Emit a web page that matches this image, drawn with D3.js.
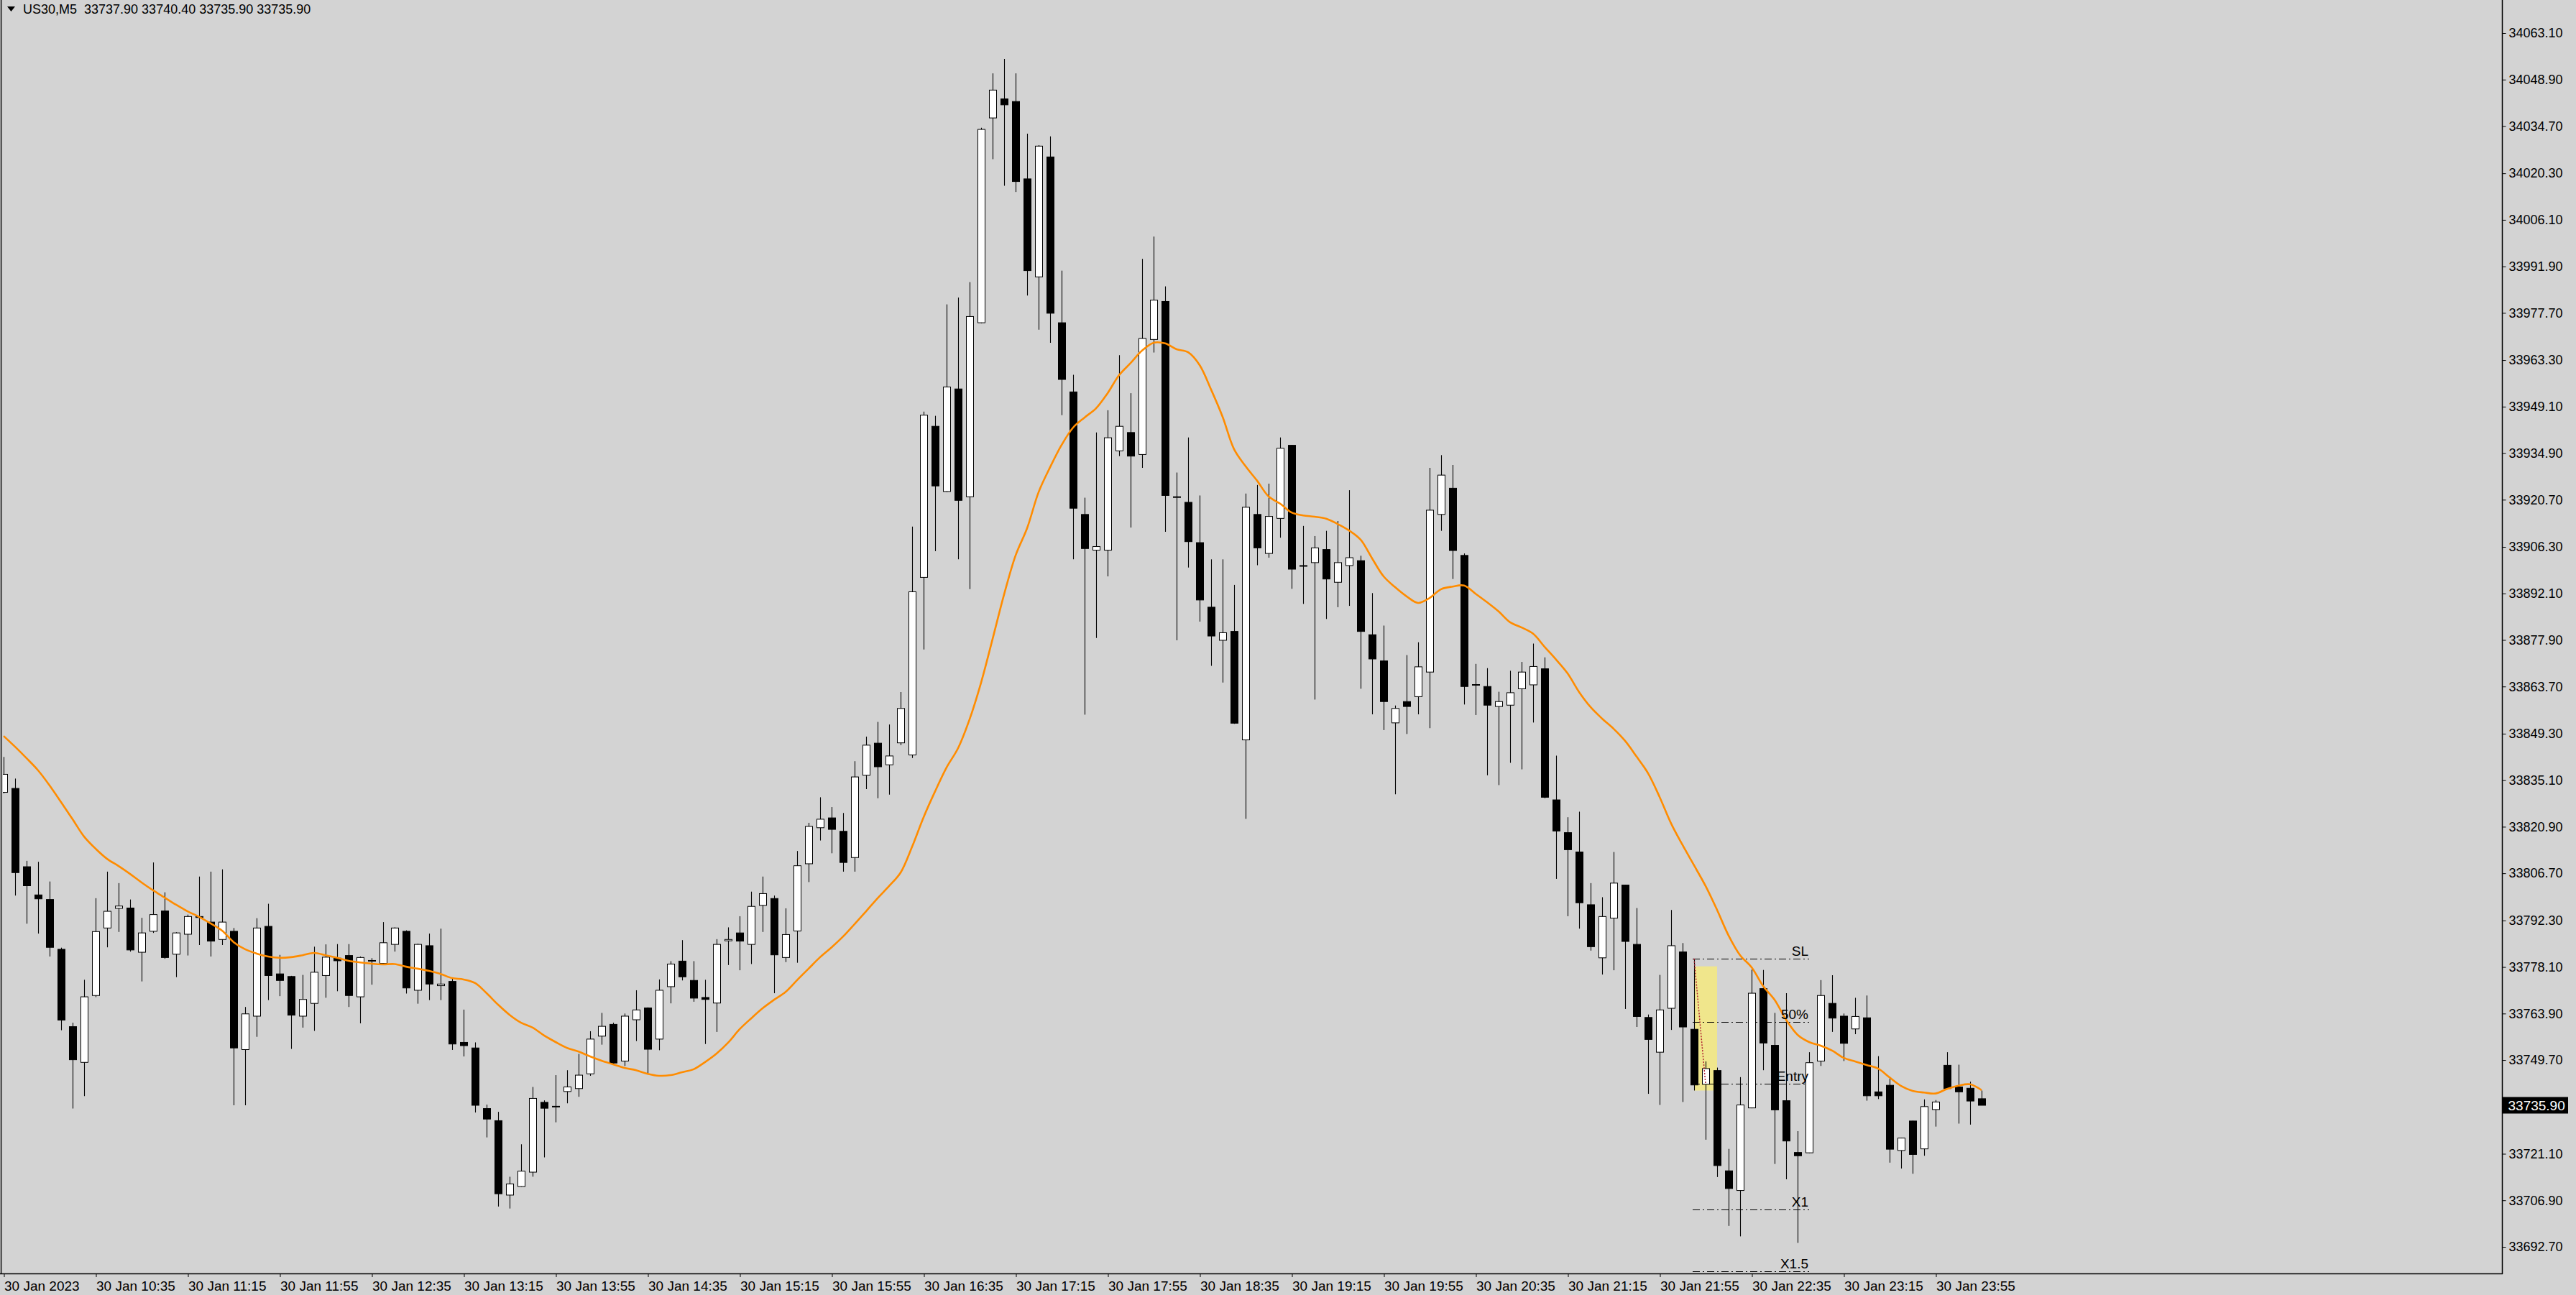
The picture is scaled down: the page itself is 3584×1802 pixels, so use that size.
<!DOCTYPE html>
<html><head><meta charset="utf-8">
<script src="https://cdn.jsdelivr.net/npm/d3@7"></script>
<style>
html,body{margin:0;padding:0;background:#d3d3d3;overflow:hidden}
svg{display:block}
text{font-family:"Liberation Sans",Arial,sans-serif;fill:#000}
</style></head><body>
<svg id="chart" width="3584" height="1802"></svg>
<script>
const chartTitle = "US30,M5  33737.90 33740.40 33735.90 33735.90";

const opens = [
33831.4,33832.6,33808.7,33800.1,33798.7,33783.5,33759.9,33749.0,33769.4,33790.0,
33796.0,33796.1,33782.6,33789.0,33795.2,33782.0,33788.1,33793.5,33791.8,33786.5,
33789.0,33752.9,33763.1,33790.5,33776.0,33775.2,33763.1,33767.0,33775.5,33780.8,
33781.6,33769.0,33780.0,33779.2,33785.0,33789.0,33771.0,33784.6,33772.4,33773.7,
33755.1,33753.4,33734.9,33731.2,33708.5,33711.1,33715.5,33736.8,33735.6,33740.1,
33741.0,33745.5,33757.0,33760.6,33749.4,33762.0,33765.6,33756.1,33772.1,33779.9,
33774.0,33768.8,33767.1,33786.1,33788.5,33785.0,33796.9,33799.0,33781.0,33789.1,
33809.6,33820.6,33823.6,33819.5,33811.5,33836.6,33846.4,33839.8,33846.5,33842.8,
33897.0,33943.1,33923.2,33954.5,33921.6,33974.7,34037.2,34043.0,34042.2,34018.6,
33988.7,34025.3,33974.7,33953.6,33916.2,33905.3,33905.3,33935.6,33941.2,33934.5,
33969.6,33981.2,33921.6,33919.9,33907.6,33887.9,33877.8,33880.5,33847.4,33916.2,
33904.3,33915.0,33937.3,33900.6,33901.5,33905.5,33895.5,33900.6,33902.1,33879.5,
33871.5,33852.6,33859.1,33860.6,33868.1,33916.2,33924.2,33903.7,33864.3,33863.7,
33857.6,33858.0,33863.0,33864.2,33869.1,33829.1,33819.1,33813.2,33797.1,33780.9,
33793.0,33803.1,33785.0,33762.7,33752.1,33765.5,33782.7,33759.1,33742.3,33746.5,
33715.9,33709.9,33735.1,33771.5,33754.2,33737.3,33721.5,33721.4,33749.4,33767.0,
33763.1,33759.2,33762.6,33740.0,33742.0,33722.1,33731.1,33722.6,33734.6,33748.1,
33741.5,33741.1,33737.9];

const highs = [
33842.2,33835.6,33810.5,33810.2,33804.2,33784.0,33761.1,33774.2,33799.1,33807.2,
33803.7,33798.7,33793.1,33810.0,33800.9,33788.7,33794.1,33805.7,33807.2,33807.9,
33790.0,33765.9,33793.0,33797.4,33781.8,33775.4,33775.7,33784.3,33785.0,33785.1,
33785.1,33781.3,33780.8,33791.8,33790.2,33789.3,33785.2,33788.3,33789.8,33774.7,
33765.1,33755.1,33736.1,33733.9,33714.1,33724.0,33741.5,33737.4,33745.1,33746.6,
33751.6,33758.5,33764.1,33761.1,33763.9,33771.0,33765.8,33774.3,33779.9,33786.3,
33779.9,33774.2,33786.6,33790.2,33793.6,33801.1,33805.7,33799.9,33796.0,33813.5,
33822.1,33829.9,33826.9,33825.1,33840.9,33848.4,33852.9,33852.1,33862.0,33912.5,
33947.6,33946.3,33980.3,33982.4,33987.1,34034.2,34050.8,34055.2,34050.8,34032.4,
34028.9,34031.6,33990.6,33958.8,33921.3,33941.2,33948.0,33964.8,33953.2,33994.2,
34001.0,33985.8,33929.0,33939.7,33922.0,33902.5,33902.5,33894.7,33922.6,33925.2,
33925.6,33939.7,33937.4,33912.7,33909.6,33911.2,33914.2,33923.6,33903.6,33892.2,
33882.3,33857.9,33873.3,33877.2,33930.4,33934.3,33931.3,33904.3,33870.6,33869.3,
33862.1,33868.5,33871.2,33876.8,33872.6,33842.6,33823.8,33825.5,33803.7,33799.4,
33813.2,33803.2,33796.1,33763.6,33775.7,33795.5,33785.4,33780.5,33749.3,33747.4,
33722.6,33744.5,33777.3,33777.2,33764.1,33770.1,33728.0,33752.1,33774.1,33775.6,
33763.9,33768.7,33769.4,33750.9,33744.6,33726.0,33731.2,33737.7,33737.5,33752.1,
33748.3,33743.1,33740.4];

const lows = [
33831.1,33799.9,33791.3,33788.3,33781.3,33758.8,33734.9,33738.7,33768.9,33784.1,
33788.8,33782.8,33773.7,33788.5,33780.6,33775.0,33781.6,33784.8,33781.3,33784.8,
33735.9,33735.9,33756.8,33768.0,33769.2,33753.1,33759.6,33758.6,33768.7,33770.7,
33765.9,33760.9,33772.7,33778.7,33782.8,33770.0,33766.9,33768.0,33768.0,33752.8,
33750.8,33733.7,33726.1,33705.0,33704.4,33711.0,33714.1,33720.0,33730.7,33736.5,
33738.5,33744.9,33754.4,33748.3,33747.9,33755.5,33745.5,33752.7,33767.0,33774.0,
33767.5,33754.6,33758.3,33778.7,33777.1,33779.0,33788.8,33770.1,33779.6,33779.4,
33804.0,33816.7,33812.8,33807.2,33807.2,33832.4,33829.6,33830.7,33845.8,33841.9,
33875.0,33905.0,33923.0,33902.5,33893.4,33974.5,34024.6,34016.5,34014.6,33983.0,
33972.6,33968.6,33946.5,33902.5,33855.1,33878.5,33897.3,33934.0,33912.2,33930.4,
33965.6,33910.9,33877.8,33900.0,33883.5,33870.0,33864.9,33852.3,33823.3,33900.7,
33903.0,33909.1,33893.5,33888.9,33859.7,33884.3,33887.9,33888.3,33863.0,33855.2,
33850.4,33830.8,33849.2,33855.2,33851.0,33911.2,33896.5,33858.2,33855.0,33836.6,
33833.6,33840.4,33838.4,33852.7,33829.6,33805.0,33793.6,33789.8,33783.1,33775.8,
33777.1,33765.3,33759.8,33739.4,33736.0,33758.9,33736.9,33740.4,33725.4,33714.0,
33699.1,33695.9,33735.0,33746.6,33718.0,33713.3,33693.9,33721.3,33747.9,33758.3,
33749.4,33757.6,33737.3,33737.8,33718.4,33716.6,33715.0,33720.5,33729.4,33741.0,
33730.3,33730.0,33735.9];

const closes = [
33836.9,33806.9,33802.9,33798.9,33784.1,33761.9,33749.8,33769.0,33788.9,33795.1,
33796.7,33783.3,33788.5,33794.1,33781.0,33788.5,33793.5,33793.2,33786.0,33791.8,
33753.4,33763.8,33790.0,33775.5,33774.0,33763.4,33768.2,33776.5,33781.1,33780.0,
33769.4,33781.0,33780.1,33785.5,33790.0,33771.7,33785.0,33772.9,33772.9,33754.6,
33754.1,33735.9,33731.7,33708.9,33711.9,33715.8,33738.0,33735.0,33735.6,33741.5,
33745.1,33756.1,33760.0,33748.8,33763.1,33765.0,33753.0,33771.0,33779.0,33775.1,
33768.6,33768.2,33785.0,33786.5,33786.0,33796.6,33800.5,33781.8,33788.0,33809.0,
33821.0,33823.2,33820.1,33810.0,33836.1,33845.8,33839.2,33842.5,33857.0,33892.6,
33946.5,33924.9,33955.1,33920.5,33976.6,34033.7,34045.7,34041.2,34017.8,33990.6,
34028.6,33977.6,33957.4,33918.1,33905.8,33906.4,33939.6,33943.1,33934.0,33969.9,
33981.6,33922.0,33921.6,33907.9,33890.1,33879.1,33880.1,33852.5,33918.4,33906.0,
33915.6,33936.4,33899.5,33900.6,33906.0,33896.5,33901.5,33903.0,33880.5,33872.1,
33859.1,33857.0,33857.6,33869.7,33917.5,33928.2,33905.2,33863.7,33864.3,33858.0,
33859.1,33861.8,33868.1,33869.8,33829.9,33819.6,33813.9,33797.7,33784.3,33793.5,
33803.7,33785.9,33763.0,33756.0,33765.0,33784.6,33759.8,33742.1,33747.1,33717.5,
33710.5,33736.0,33770.1,33754.9,33734.5,33725.0,33720.5,33748.9,33769.4,33762.5,
33754.8,33763.0,33738.8,33738.8,33722.5,33725.9,33720.9,33735.5,33736.9,33741.0,
33740.0,33737.2,33735.9];

const maValues = [
33848.6,33845.3,33841.8,33838.1,33833.5,33828.4,33823.2,33817.9,33814.2,33811.1,
33808.9,33806.5,33803.9,33801.5,33799.3,33797.1,33795.1,33793.4,33791.4,33789.2,
33785.7,33783.5,33782.2,33781.3,33780.9,33781.1,33781.7,33782.4,33781.7,33780.9,
33780.0,33779.5,33779.1,33778.9,33779.0,33778.2,33777.6,33776.9,33776.0,33774.7,
33774.3,33773.2,33770.1,33766.6,33763.5,33761.1,33759.6,33757.2,33755.2,33753.4,
33752.3,33750.8,33749.5,33748.4,33747.3,33746.6,33745.5,33744.9,33745.1,33746.0,
33746.9,33749.1,33751.7,33755.0,33759.1,33762.4,33765.5,33768.1,33770.5,33774.1,
33777.6,33781.1,33784.1,33787.4,33791.2,33795.1,33799.1,33802.8,33806.9,33814.8,
33823.8,33831.7,33839.0,33844.9,33853.7,33864.9,33878.2,33891.8,33903.7,33912.0,
33923.0,33930.6,33937.4,33942.7,33945.8,33948.6,33953.2,33958.7,33962.4,33966.2,
33968.6,33968.4,33966.6,33965.7,33961.8,33954.3,33946.0,33936.1,33930.9,33926.5,
33921.7,33919.5,33916.8,33915.9,33915.5,33914.9,33913.3,33911.3,33908.5,33902.8,
33897.3,33894.0,33891.2,33889.2,33890.7,33893.4,33894.2,33894.5,33892.0,33889.4,
33886.6,33883.3,33881.7,33879.8,33875.8,33871.9,33867.7,33862.0,33857.4,33853.9,
33850.8,33847.1,33842.3,33837.2,33830.0,33821.9,33815.3,33809.1,33802.8,33795.5,
33787.7,33781.7,33778.0,33772.3,33768.1,33762.0,33757.4,33755.2,33754.1,33752.6,
33750.4,33749.3,33748.2,33747.1,33744.4,33741.8,33740.3,33739.8,33739.5,33740.9,
33741.9,33742.3,33740.5];

const xTickBars = [0,8,16,24,32,40,48,56,64,72,80,88,96,104,112,120,128,136,144,152,160,168];
const xTickLabels = ["30 Jan 2023","30 Jan 10:35","30 Jan 11:15","30 Jan 11:55","30 Jan 12:35",
"30 Jan 13:15","30 Jan 13:55","30 Jan 14:35","30 Jan 15:15","30 Jan 15:55","30 Jan 16:35",
"30 Jan 17:15","30 Jan 17:55","30 Jan 18:35","30 Jan 19:15","30 Jan 19:55","30 Jan 20:35",
"30 Jan 21:15","30 Jan 21:55","30 Jan 22:35","30 Jan 23:15","30 Jan 23:55"];

const yTickValues = [34063.1,34048.9,34034.7,34020.3,34006.1,33991.9,33977.7,33963.3,33949.1,
33934.9,33920.7,33906.3,33892.1,33877.9,33863.7,33849.3,33835.1,33820.9,33806.7,33792.3,
33778.1,33763.9,33749.7,33721.1,33706.9,33692.7];

const lastPrice = 33735.90;

const levelNames = ["SL","50%","Entry","X1","X1.5"];
const levelPrices = [33780.7,33761.4,33742.4,33704.2,33685.2];
const levelBars = [147,157];
const zoneBars = [147,149];
const zonePrices = [33778.3,33740.4];
const diagBars = [147,148];
const diagPrices = [33780.7,33742.4];

// ---------- drawing ----------
const W = 3584, H = 1802, plotRight = 3481, axisY = 1772;
const svg = d3.select("#chart");
svg.append("rect").attr("width",W).attr("height",H).attr("fill","#d3d3d3");

const idx = d3.range(opens.length);
const x = d3.scalePoint().domain(idx).range([5, 5 + 16*(opens.length-1)]);
const y = d3.scaleLinear().domain([33692.7, 34063.1]).range([1735, 46]);

svg.append("defs").append("clipPath").attr("id","plotclip")
  .append("rect").attr("x",4).attr("y",0).attr("width",plotRight-4).attr("height",axisY);

const plot = svg.append("g").attr("clip-path","url(#plotclip)");

// yellow zone
plot.append("rect")
  .attr("x", x(zoneBars[0])).attr("width", x(zoneBars[1]) - x(zoneBars[0]))
  .attr("y", y(zonePrices[0])).attr("height", y(zonePrices[1]) - y(zonePrices[0]))
  .attr("fill","#f0e68c");

// level lines
plot.selectAll("line.lvl").data(levelPrices).enter().append("line")
  .attr("class","lvl")
  .attr("x1", x(levelBars[0])-2).attr("x2", x(levelBars[1]))
  .attr("y1", d => Math.round(y(d))+0.5).attr("y2", d => Math.round(y(d))+0.5)
  .attr("stroke","#000").attr("stroke-width",1).attr("stroke-dasharray","10,4,2,4");

// candles
const cg = plot.append("g");
idx.forEach(i => {
  const cx = Math.round(x(i));
  const o = opens[i], c = closes[i], h = highs[i], l = lows[i];
  const bull = c >= o;
  cg.append("line").attr("x1",cx+0.5).attr("x2",cx+0.5)
    .attr("y1",y(h)).attr("y2",y(l)).attr("stroke","#000").attr("stroke-width",1.1);
  const top = y(Math.max(o,c)), bot = y(Math.min(o,c));
  cg.append("rect").attr("x",cx-4.5).attr("width",10)
    .attr("y",top).attr("height",Math.max(1,bot-top))
    .attr("fill", bull ? "#ffffff" : "#000000")
    .attr("stroke","#000").attr("stroke-width",1);
});

// moving average
plot.append("path").datum(idx)
  .attr("d", d3.line().x(i => x(i)).y(i => y(maValues[i])).curve(d3.curveCatmullRom))
  .attr("fill","none").attr("stroke","#ff8c00").attr("stroke-width",2.6);

// dotted diagonal
plot.append("line")
  .attr("x1", x(diagBars[0])).attr("y1", y(diagPrices[0]))
  .attr("x2", x(diagBars[1])).attr("y2", y(diagPrices[1]))
  .attr("stroke","#b02030").attr("stroke-width",1.5).attr("stroke-dasharray","2,2");

// level labels
plot.selectAll("text.lvl").data(levelNames).enter().append("text")
  .attr("class","lvl")
  .attr("x", x(levelBars[1]) - 1)
  .attr("y", (d,i) => y(levelPrices[i]) - 4)
  .attr("text-anchor","end").attr("font-size",19).text(d => d);

// frame
svg.append("line").attr("x1",0.5).attr("x2",0.5).attr("y1",0).attr("y2",axisY).attr("stroke","#808080");
svg.append("line").attr("x1",2.5).attr("x2",2.5).attr("y1",0).attr("y2",axisY).attr("stroke","#000");
svg.append("line").attr("x1",0).attr("x2",plotRight+1).attr("y1",axisY+0.5).attr("y2",axisY+0.5).attr("stroke","#000").attr("stroke-width",1.5);
svg.append("line").attr("x1",plotRight+0.5).attr("x2",plotRight+0.5).attr("y1",0).attr("y2",axisY+1).attr("stroke","#000").attr("stroke-width",1.5);

// y axis
const yAxis = svg.append("g").attr("transform",`translate(${plotRight+0.5},0)`)
  .call(d3.axisRight(y).tickValues(yTickValues).tickSize(5).tickPadding(4).tickFormat(d3.format(".2f")));
yAxis.select(".domain").remove();
yAxis.selectAll("text").attr("font-size",18).attr("font-family","Liberation Sans, Arial, sans-serif").attr("fill","#000");
yAxis.selectAll("line").attr("stroke","#000");

// current price tag
const py = y(lastPrice);
svg.append("rect").attr("x",plotRight+1).attr("y",py-11.5).attr("width",91).attr("height",23).attr("fill","#000");
svg.append("text").attr("x",plotRight+8.5).attr("y",py).attr("dy","0.35em")
  .attr("font-size",19).style("fill","#fff").text(d3.format(".2f")(lastPrice));

// x axis
const xAxis = svg.append("g").attr("transform",`translate(0.5,${axisY})`)
  .call(d3.axisBottom(x).tickValues(xTickBars).tickSize(5).tickFormat((d,i) => xTickLabels[i]));
xAxis.select(".domain").remove();
xAxis.selectAll("line").attr("stroke","#000");
xAxis.selectAll("text").attr("text-anchor","start").attr("x",0).attr("y",24).attr("dy",0)
  .attr("font-size",19).attr("font-family","Liberation Sans, Arial, sans-serif").attr("fill","#000");

// title
svg.append("path").attr("d","M10,9 L21,9 L15.5,16 Z").attr("fill","#000");
svg.append("text").attr("x",32).attr("y",19).attr("font-size",18)
  .style("white-space","pre").text(chartTitle);
</script>
</body></html>
